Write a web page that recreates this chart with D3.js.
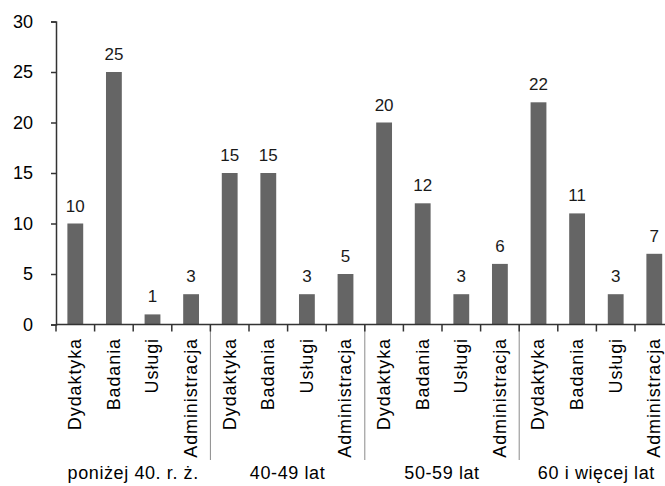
<!DOCTYPE html>
<html>
<head>
<meta charset="utf-8">
<script src="https://cdn.jsdelivr.net/npm/d3@7"></script>
<style>
  body { margin: 0; background: #fff; }
  svg { display: block; font-family: "Liberation Sans", Arial, sans-serif; }
</style>
</head>
<body>
<svg id="chart" width="665" height="486"></svg>
<script>
// Data
const groups = ["poniżej 40. r. ż.", "40-49 lat", "50-59 lat", "60 i więcej lat"];
const categories = ["Dydaktyka", "Badania", "Usługi", "Administracja"];
const under40 = [10, 25, 1, 3];
const age40to49 = [15, 15, 3, 5];
const age50to59 = [20, 12, 3, 6];
const age60plus = [22, 11, 3, 7];
const yTicks = [0, 5, 10, 15, 20, 25, 30];

const groupValues = [under40, age40to49, age50to59, age60plus];

// Flatten into one row per bar
const rows = [];
groups.forEach((g, gi) => {
  categories.forEach((c, ci) => {
    rows.push({ group: g, category: c, value: groupValues[gi][ci], idx: gi * categories.length + ci });
  });
});

const svg = d3.select('#chart');

const x = d3.scaleBand()
  .domain(d3.range(rows.length))
  .range([56, 56 + 38.6 * rows.length])
  .paddingInner(0.59)
  .paddingOuter(0.295);

const y = d3.scaleLinear()
  .domain([0, 30])
  .range([324.5, 21.5]);

const step = x.step();
const x0 = x.range()[0];

// Bars
svg.append("g")
  .selectAll("rect")
  .data(rows)
  .join("rect")
  .attr("x", d => x(d.idx))
  .attr("y", d => y(d.value))
  .attr("width", x.bandwidth())
  .attr("height", d => y(0) - y(d.value))
  .style("fill", "#656565");

// Value labels
svg.append("g")
  .selectAll("text")
  .data(rows)
  .join("text")
  .attr("x", d => x(d.idx) + x.bandwidth() / 2)
  .attr("y", d => y(d.value) - 12)
  .attr("text-anchor", "middle")
  .style("font-size", "17px")
  .style("fill", "#1a1a1a")
  .text(d => d.value);

// Y axis
const yAxis = svg.append("g")
  .attr("transform", `translate(${x0},0)`)
  .call(d3.axisLeft(y).tickValues(yTicks).tickSize(5).tickPadding(18));
yAxis.select(".domain").attr("stroke", "#333").attr("stroke-width", 1.5);
yAxis.selectAll(".tick line").attr("stroke", "#333").attr("stroke-width", 1.5);
yAxis.selectAll(".tick text")
  .style("font-size", "18px")
  .style("font-family", "'Liberation Sans', Arial, sans-serif")
  .style("fill", "#000");

// Group separators (long thin lines)
const boundaries = d3.range(rows.length + 1);
svg.append("g")
  .selectAll("line")
  .data(boundaries.filter(i => i > 0 && i % categories.length === 0))
  .join("line")
  .attr("x1", i => x0 + i * step)
  .attr("x2", i => x0 + i * step)
  .attr("y1", y(0))
  .attr("y2", 460)
  .style("stroke", "#8a8a8a")
  .style("stroke-width", 1);

// X axis line and category ticks
svg.append("line")
  .attr("x1", x0)
  .attr("x2", x.range()[1])
  .attr("y1", y(0))
  .attr("y2", y(0))
  .style("stroke", "#333")
  .style("stroke-width", 1.5);

svg.append("g")
  .selectAll("line")
  .data(boundaries)
  .join("line")
  .attr("x1", i => x0 + i * step)
  .attr("x2", i => x0 + i * step)
  .attr("y1", y(0))
  .attr("y2", y(0) + 7)
  .style("stroke", "#333")
  .style("stroke-width", 1.5);

// Category labels (rotated)
svg.append("g")
  .selectAll("text")
  .data(rows)
  .join("text")
  .attr("transform", d => `translate(${x(d.idx) + x.bandwidth() / 2},338) rotate(-90)`)
  .attr("dy", "0.33em")
  .attr("text-anchor", "end")
  .style("font-size", "18px")
  .style("letter-spacing", "0.9px")
  .style("fill", "#000")
  .text(d => d.category);

// Group labels
svg.append("g")
  .selectAll("text")
  .data(groups)
  .join("text")
  .attr("x", (g, gi) => x0 + (gi + 0.5) * categories.length * step)
  .attr("y", 479)
  .attr("text-anchor", "middle")
  .style("font-size", "18px")
  .style("letter-spacing", "0.6px")
  .style("fill", "#000")
  .text(g => g);
</script>
</body>
</html>
